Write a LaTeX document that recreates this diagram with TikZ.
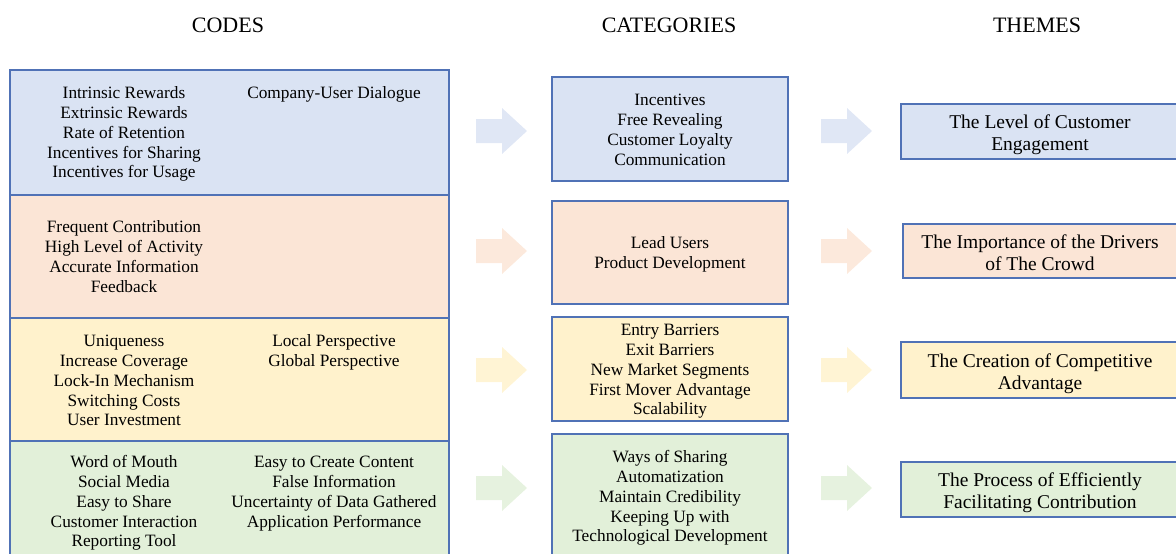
\documentclass[tikz,border=0pt]{standalone}
\usepackage{fontspec}
\setmainfont{Liberation Serif}
\definecolor{bfill}{HTML}{DAE3F3}
\definecolor{ofill}{HTML}{FBE5D6}
\definecolor{yfill}{HTML}{FFF2CC}
\definecolor{gfill}{HTML}{E2F0D9}
\definecolor{edge}{RGB}{80,114,182}
\newcommand\codefont{\fontsize{17.3}{19.7}\selectfont}
\newcommand\themefont{\fontsize{19.5}{22}\selectfont}
\newcommand\headfont{\fontsize{22}{26}\selectfont}
\begin{document}
\begin{tikzpicture}[x=1pt,y=-1pt,
  box/.style={draw=edge, line width=1.4pt, rectangle, inner sep=0pt, outer sep=0pt, anchor=north west},
  txt/.style={align=center, inner sep=0pt, anchor=north, font=\codefont},
  ttxt/.style={align=center, inner sep=0pt, anchor=north, font=\themefont},
  head/.style={inner sep=0pt, anchor=base, font=\headfont},
  barrow/.pic={\path[pic actions] (0,-12) -- (26,-12) -- (26,-23) -- (51,0) -- (26,23) -- (26,12) -- (0,12) -- cycle;}
]
\useasboundingbox (0,0) rectangle (1176,554);
\clip (0,0) rectangle (1176,554);

% headers
\node[head] (hcodes) at (228,32.5) {CODES};
\node[head] (hcat) at (669,32.5) {CATEGORIES};
\node[head] (hthemes) at (1037,32.5) {THEMES};

% codes column
\node[box, fill=bfill, minimum width=439, minimum height=125] (codeA) at (10,70) {};
\node[box, fill=ofill, minimum width=439, minimum height=123] (codeB) at (10,195) {};
\node[box, fill=yfill, minimum width=439, minimum height=123] (codeC) at (10,318) {};
\node[box, fill=gfill, minimum width=439, minimum height=140] (codeD) at (10,441) {};

\node[txt] (cAl) at (124,85) {\strut Intrinsic Rewards\\Extrinsic Rewards\\Rate of Retention\\Incentives for Sharing\\Incentives for Usage};
\node[txt] (cAr) at (334,85) {\strut Company-User Dialogue};
\node[txt] (cBl) at (124,219) {\strut Frequent Contribution\\High Level of Activity\\Accurate Information\\Feedback};
\node[txt] (cCl) at (124,333) {\strut Uniqueness\\Increase Coverage\\Lock-In Mechanism\\Switching Costs\\User Investment};
\node[txt] (cCr) at (334,333) {\strut Local Perspective\\Global Perspective};
\node[txt] (cDl) at (124,454) {\strut Word of Mouth\\Social Media\\Easy to Share\\Customer Interaction\\Reporting Tool};
\node[txt] (cDr) at (334,454) {\strut Easy to Create Content\\False Information\\Uncertainty of Data Gathered\\Application Performance};

% categories column
\node[box, fill=bfill, minimum width=236, minimum height=104] (catA) at (552,77) {};
\node[box, fill=ofill, minimum width=236, minimum height=103] (catB) at (552,201) {};
\node[box, fill=yfill, minimum width=236, minimum height=104] (catC) at (552,317) {};
\node[box, fill=gfill, minimum width=236, minimum height=140] (catD) at (552,434) {};

\node[txt] (kA) at (670,92) {\strut Incentives\\Free Revealing\\Customer Loyalty\\Communication};
\node[txt] (kB) at (670,235) {\strut Lead Users\\Product Development};
\node[txt] (kC) at (670,322) {\strut Entry Barriers\\Exit Barriers\\New Market Segments\\First Mover Advantage\\Scalability};
\node[txt] (kD) at (670,449) {\strut Ways of Sharing\\Automatization\\Maintain Credibility\\Keeping Up with\\Technological Development};

% themes column
\node[box, fill=bfill, minimum width=300, minimum height=55] (thA) at (901,104) {};
\node[box, fill=ofill, minimum width=300, minimum height=54] (thB) at (903,224) {};
\node[box, fill=yfill, minimum width=300, minimum height=56] (thC) at (901,342) {};
\node[box, fill=gfill, minimum width=300, minimum height=55] (thD) at (901,462) {};

\node[ttxt] (tA) at (1040,113) {\strut The Level of Customer\\Engagement};
\node[ttxt] (tB) at (1040,233) {\strut The Importance of the Drivers\\of The Crowd};
\node[ttxt] (tC) at (1040,352) {\strut The Creation of Competitive\\Advantage};
\node[ttxt] (tD) at (1040,471) {\strut The Process of Efficiently\\Facilitating Contribution};

% block arrows
\pic[fill=bfill!85!white] (a1) at (476,131) {barrow};
\pic[fill=ofill!85!white] (a2) at (476,251) {barrow};
\pic[fill=yfill!85!white] (a3) at (476,370) {barrow};
\pic[fill=gfill!85!white] (a4) at (476,488) {barrow};
\pic[fill=bfill!85!white] (b1) at (821,131) {barrow};
\pic[fill=ofill!85!white] (b2) at (821,251) {barrow};
\pic[fill=yfill!85!white] (b3) at (821,370) {barrow};
\pic[fill=gfill!85!white] (b4) at (821,488) {barrow};
\end{tikzpicture}
\end{document}
